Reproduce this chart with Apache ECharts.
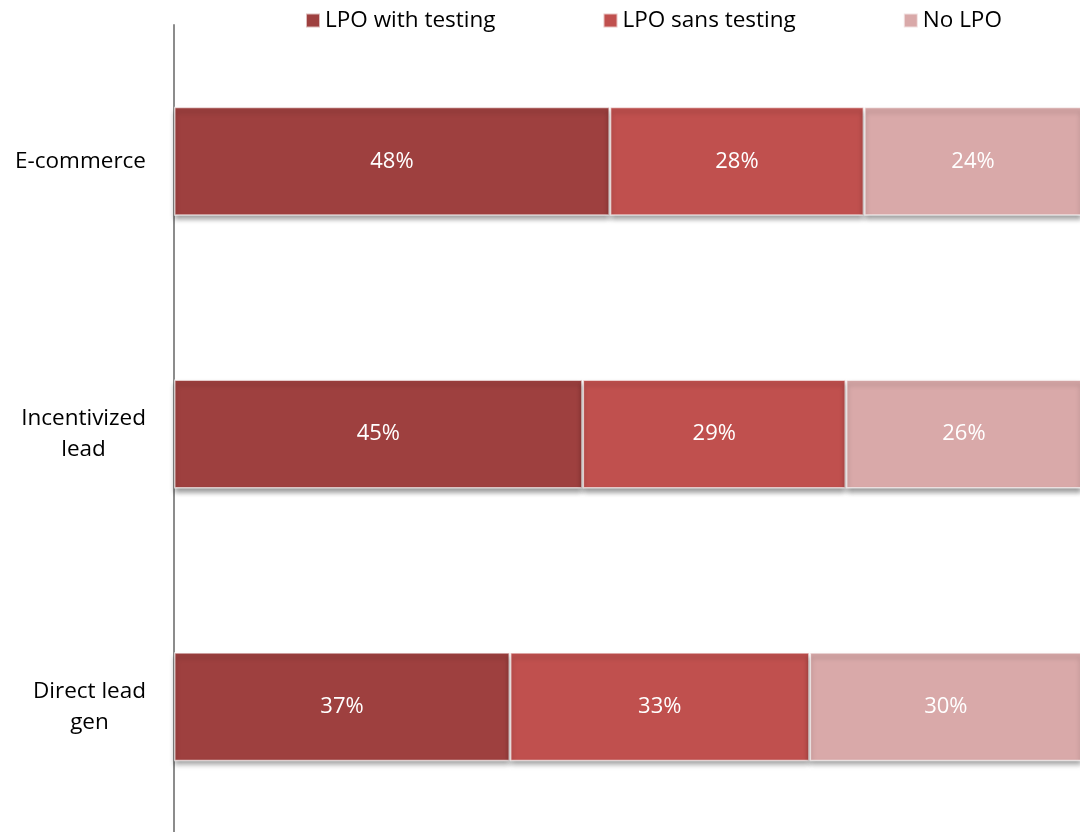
<!DOCTYPE html>
<html>
<head>
<meta charset="utf-8">
<script src="https://cdn.jsdelivr.net/npm/echarts@6/dist/echarts.min.js"></script>
<style>html,body{margin:0;padding:0;background:#fff;}#c{width:1080px;height:832px;}</style>
</head>
<body>
<div id="c"></div>
<script>
var categories = ['E-commerce', 'Incentivized\nlead', 'Direct lead\ngen'];
var seriesNames = ['LPO with testing', 'LPO sans testing', 'No LPO'];
var withTesting = [48, 45, 37];
var sansTesting = [28, 29, 33];
var noLPO = [24, 26, 30];
var colors = ['#9E403F', '#C0504E', '#D9A9A9'];

var font = '"Open Sans", "Noto Sans", sans-serif';
var chart = echarts.init(document.getElementById('c'));
function mk(name, data, color) {
  return {
    name: name, type: 'bar', stack: 'all', data: data, barWidth: '40%',
    itemStyle: {
      color: color, borderColor: 'rgba(255,255,255,0.65)', borderWidth: 1.5,
      shadowColor: 'rgba(0,0,0,0.4)', shadowBlur: 5, shadowOffsetY: 4
    },
    label: {
      show: true, position: 'inside', color: '#fff', fontFamily: font, fontSize: 22,
      formatter: function (p) { return p.value + '%'; }
    }
  };
}
chart.setOption({
  animation: false,
  color: colors,
  legend: {
    top: 4, left: 300, itemWidth: 14, itemHeight: 14, itemGap: 107,
    icon: 'rect',
    textStyle: { fontFamily: font, fontSize: 22.5, color: '#000' },
    data: seriesNames
  },
  grid: { left: 174, width: 908, top: 25, height: 818, outerBoundsMode: 'none' },
  xAxis: { type: 'value', min: 0, max: 100, show: false },
  yAxis: {
    type: 'category', inverse: true, data: categories,
    axisLine: { show: true, lineStyle: { color: '#8c8c8c', width: 2 } },
    axisTick: { show: false },
    axisLabel: {
      margin: 28, fontFamily: font, fontSize: 22.5, color: '#000', lineHeight: 31,
      formatter: function (v) {
        return v.split('\n').map(function (s) { return '{a|' + s + '}'; }).join('\n');
      },
      rich: { a: { align: 'center', fontFamily: font, fontSize: 22.5, color: '#000', lineHeight: 31 } }
    }
  },
  series: [
    mk(seriesNames[0], withTesting, colors[0]),
    mk(seriesNames[1], sansTesting, colors[1]),
    mk(seriesNames[2], noLPO, colors[2])
  ]
});
</script>
</body>
</html>
